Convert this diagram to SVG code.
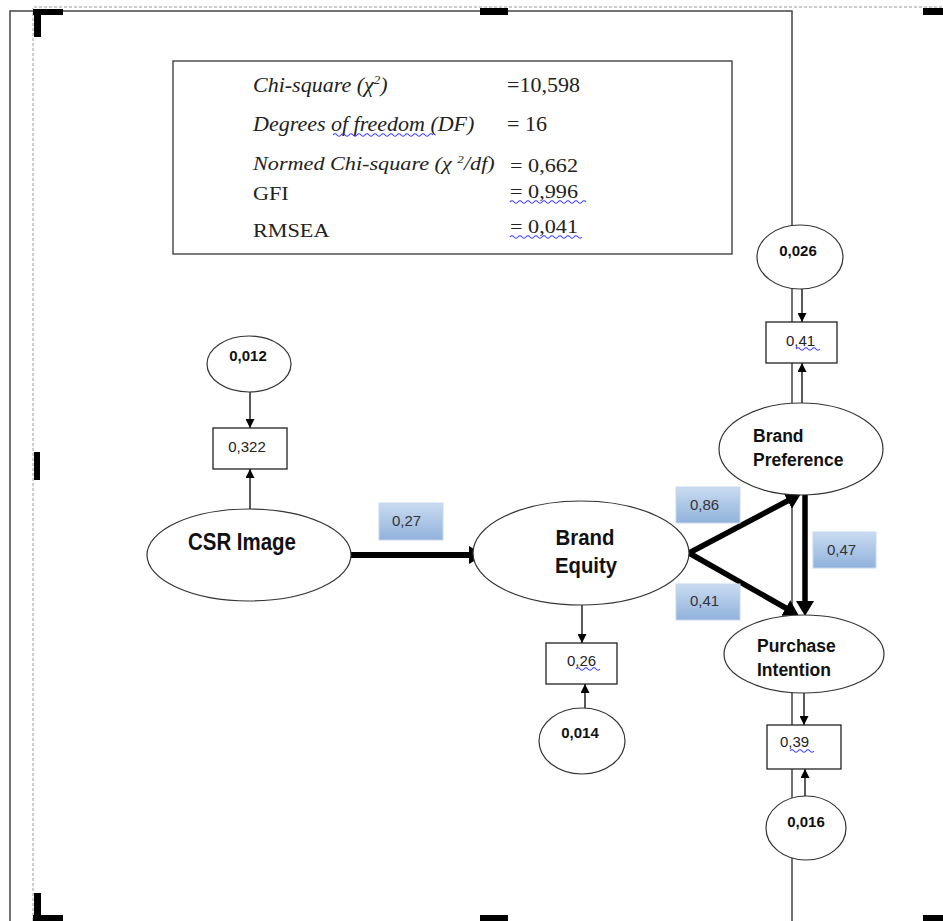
<svg xmlns="http://www.w3.org/2000/svg" width="943" height="921" viewBox="0 0 943 921">
<defs>
<linearGradient id="lblGrad" x1="0" y1="0" x2="0" y2="1">
<stop offset="0" stop-color="#c9dbf1"/>
<stop offset="1" stop-color="#91b2db"/>
</linearGradient>
<marker id="arrS" markerUnits="userSpaceOnUse" markerWidth="10" markerHeight="9" refX="9" refY="4.5" orient="auto">
<path d="M0,0 L9,4.5 L0,9 z" fill="#000"/>
</marker>
<marker id="arrB" markerUnits="userSpaceOnUse" markerWidth="16" markerHeight="18" refX="6" refY="9" orient="auto">
<path d="M0,0 L15,9 L0,18 z" fill="#000"/>
</marker>
</defs>
<style>
.frame{fill:none;stroke:#444;stroke-width:1.5}
.dash{fill:none;stroke:#9a9a9a;stroke-width:1;stroke-dasharray:3 2}
.mark{fill:#000}
.node{fill:#fff;stroke:#333;stroke-width:1.2}
.box{fill:#fff;stroke:#222;stroke-width:1.3}
.thin{fill:none;stroke:#000;stroke-width:1.3;marker-end:url(#arrS)}
.thick{fill:none;stroke:#000;stroke-width:5.5;marker-end:url(#arrB)}
.lbl{fill:url(#lblGrad);stroke:#c8d8ee;stroke-width:1}
.lt{font-family:"Liberation Sans",Arial,sans-serif;font-size:15px;fill:#333}
.bt{font-family:"Liberation Sans",Arial,sans-serif;font-weight:bold;fill:#111}
.num{font-family:"Liberation Sans",Arial,sans-serif;font-size:15px;fill:#222}
.tr{font-family:"Liberation Serif","Times New Roman",serif;font-size:22px;fill:#222}
.it{font-style:italic}
.wave{fill:none;stroke:#3a3aff;stroke-width:1.1}
</style>

<g id="page-frame">
<path class="frame" d="M10,921 V11 H792 V921"/>
<path class="dash" d="M33,921 V7 H943"/>
<rect class="mark" x="33" y="9" width="30" height="6"/>
<rect class="mark" x="34" y="9" width="7" height="28"/>
<rect class="mark" x="480" y="8" width="28" height="7"/>
<rect class="mark" x="923" y="8" width="20" height="7"/>
<rect class="mark" x="34" y="452" width="6" height="28"/>
<rect class="mark" x="34" y="893" width="7" height="28"/>
<rect class="mark" x="33" y="915" width="30" height="6"/>
<rect class="mark" x="480" y="915" width="28" height="6"/>
<rect class="mark" x="923" y="915" width="20" height="6"/>
</g>

<g id="fit-table">
<rect x="173" y="61" width="559" height="193" fill="#fff" stroke="#333" stroke-width="1.3"/>
<text class="tr it" x="253" y="92">Chi-square (χ<tspan dy="-8" font-size="13">2</tspan><tspan dy="8">)</tspan></text>
<text class="tr" x="507" y="92">=10,598</text>
<text class="tr it" x="253" y="131">Degrees of freedom (DF)</text>
<text class="tr" x="507" y="131">= 16</text>
<text class="tr it" transform="translate(253,170) scale(1.2,1)" x="0" y="0" font-size="18.5px" style="font-size:18.5px">Normed Chi-square (χ <tspan dy="-7" font-size="11">2</tspan><tspan dy="7">/df)</tspan></text>
<text class="tr" transform="translate(510,172) scale(1.2,1)" x="0" y="0" style="font-size:18.5px">= 0,662</text>
<text class="tr" transform="translate(253,200) scale(1.2,1)" x="0" y="0" style="font-size:18.5px">GFI</text>
<text class="tr" transform="translate(510,198) scale(1.2,1)" x="0" y="0" style="font-size:18.5px">= 0,996</text>
<text class="tr" transform="translate(253,237) scale(1.2,1)" x="0" y="0" style="font-size:18.5px">RMSEA</text>
<text class="tr" transform="translate(510,233) scale(1.2,1)" x="0" y="0" style="font-size:18.5px">= 0,041</text>
</g>

<g id="spell-marks">
<path class="wave" d="M333,135 q2,-2.5 4,0 t4,0 t4,0 t4,0 t4,0 t4,0 t4,0 t4,0 t4,0 t4,0 t4,0 t4,0 t4,0 t4,0 t4,0 t4,0 t4,0 t4,0 t4,0 t4,0 t4,0 t4,0 t4,0 t4,0 t4,0"/>
<path class="wave" d="M510,202 q2,-2.5 4,0 t4,0 t4,0 t4,0 t4,0 t4,0 t4,0 t4,0 t4,0 t4,0 t4,0 t4,0 t4,0 t4,0 t4,0 t4,0 t4,0 t4,0 t4,0"/>
<path class="wave" d="M510,237 q2,-2.5 4,0 t4,0 t4,0 t4,0 t4,0 t4,0 t4,0 t4,0 t4,0 t4,0 t4,0 t4,0 t4,0 t4,0 t4,0 t4,0 t4,0 t4,0"/>
</g>

<g id="connectors">
<line class="thin" x1="250" y1="392" x2="250" y2="428"/>
<line class="thin" x1="250" y1="509" x2="250" y2="469"/>
<line class="thin" x1="582" y1="605" x2="582" y2="643"/>
<line class="thin" x1="585" y1="708" x2="585" y2="684"/>
<line class="thin" x1="802" y1="289" x2="802" y2="322"/>
<line class="thin" x1="802" y1="403" x2="802" y2="363"/>
<line class="thin" x1="804" y1="693" x2="804" y2="725"/>
<line class="thin" x1="805" y1="796" x2="805" y2="769"/>
<line class="thick" x1="351" y1="555" x2="475" y2="555" style="stroke-width:6"/>
<line class="thick" x1="689" y1="553" x2="793" y2="498"/>
<line class="thick" x1="689" y1="553" x2="791" y2="611"/>
<line class="thick" x1="805" y1="495" x2="805" y2="607"/>
</g>

<g id="label-027">
<rect class="lbl" x="379" y="503" width="64" height="37"/>
<text class="lt" x="392" y="526">0,27</text>
</g>
<g id="label-086">
<rect class="lbl" x="676" y="487" width="64" height="36"/>
<text class="lt" x="690" y="510">0,86</text>
</g>
<g id="label-041">
<rect class="lbl" x="676" y="584" width="64" height="36"/>
<text class="lt" x="690" y="606">0,41</text>
</g>
<g id="label-047">
<rect class="lbl" x="813" y="532" width="63" height="36"/>
<text class="lt" x="827" y="555">0,47</text>
</g>

<g id="err-csr">
<ellipse class="node" cx="249" cy="364" rx="42" ry="28"/>
<text class="bt" x="248" y="361" text-anchor="middle" font-size="15">0,012</text>
</g>
<g id="ind-csr">
<rect class="box" x="213" y="428" width="74" height="41"/>
<text class="num" x="247" y="452" text-anchor="middle">0,322</text>
</g>
<g id="csr-image">
<ellipse class="node" cx="249" cy="555" rx="102" ry="46"/>
<text class="bt" x="242" y="550" text-anchor="middle" font-size="23" textLength="108" lengthAdjust="spacingAndGlyphs">CSR Image</text>
</g>

<g id="brand-equity">
<ellipse class="node" cx="581" cy="553" rx="108" ry="52"/>
<text class="bt" x="585" y="545" text-anchor="middle" font-size="22" textLength="59" lengthAdjust="spacingAndGlyphs">Brand</text>
<text class="bt" x="586" y="573" text-anchor="middle" font-size="22" textLength="62" lengthAdjust="spacingAndGlyphs">Equity</text>
</g>
<g id="ind-equity">
<rect class="box" x="546" y="643" width="71" height="41"/>
<text class="num" x="567" y="666">0,26</text>
<path class="wave" d="M576,669 q2,-2.5 4,0 t4,0 t4,0 t4,0 t4,0 t4,0"/>
</g>
<g id="err-equity">
<ellipse class="node" cx="582" cy="741" rx="43" ry="33"/>
<text class="bt" x="580" y="738" text-anchor="middle" font-size="15">0,014</text>
</g>

<g id="err-pref">
<ellipse class="node" cx="800" cy="257" rx="43" ry="32"/>
<text class="bt" x="798" y="256" text-anchor="middle" font-size="15">0,026</text>
</g>
<g id="ind-pref">
<rect class="box" x="766" y="322" width="71" height="41"/>
<text class="num" x="786" y="346">0,41</text>
<path class="wave" d="M796,349 q2,-2.5 4,0 t4,0 t4,0 t4,0 t4,0 t4,0"/>
</g>
<g id="brand-preference">
<ellipse class="node" cx="801" cy="449" rx="82" ry="46"/>
<text class="bt" x="753" y="442" font-size="17.5">Brand</text>
<text class="bt" x="753" y="466" font-size="17.5">Preference</text>
</g>

<g id="purchase-intention">
<ellipse class="node" cx="804" cy="654" rx="80" ry="39"/>
<text class="bt" x="757" y="652" font-size="17.5">Purchase</text>
<text class="bt" x="757" y="676" font-size="17.5">Intention</text>
</g>
<g id="ind-purchase">
<rect class="box" x="767" y="725" width="74" height="44"/>
<text class="num" x="780" y="747">0,39</text>
<path class="wave" d="M790,751 q2,-2.5 4,0 t4,0 t4,0 t4,0 t4,0 t4,0"/>
</g>
<g id="err-purchase">
<ellipse class="node" cx="806" cy="828" rx="40" ry="32"/>
<text class="bt" x="806" y="827" text-anchor="middle" font-size="15">0,016</text>
</g>
</svg>
